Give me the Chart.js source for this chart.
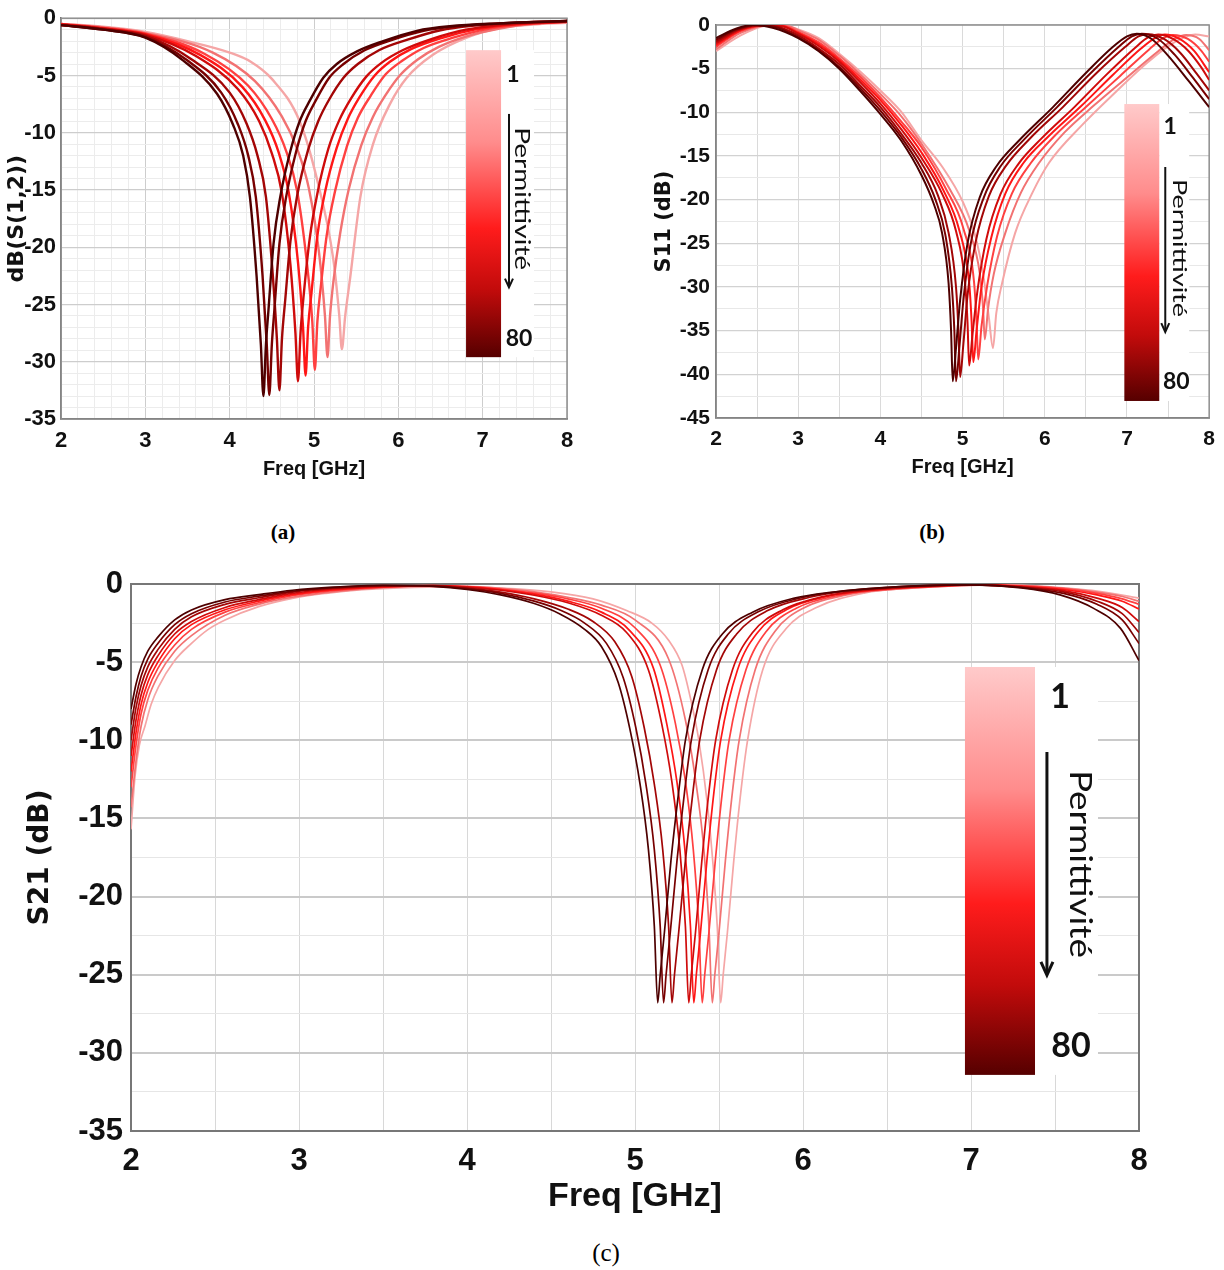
<!DOCTYPE html>
<html>
<head>
<meta charset="utf-8">
<title>Permittivité</title>
<script src="https://cdn.jsdelivr.net/npm/chart.js@4.4.1/dist/chart.umd.min.js"></script>
<style>
  body { margin: 0; background: #fff; width: 1224px; height: 1270px; position: relative; overflow: hidden; }
  .box { position: absolute; }
  .cap { position: absolute; transform: translate(-50%, -50%); font-family: "Liberation Serif", "Times New Roman", serif; color: #000; }
</style>
</head>
<body>
<div class="box" style="left:0;top:0;"><canvas id="chartA" width="600" height="485"></canvas></div>
<div class="box" style="left:640px;top:0;"><canvas id="chartB" width="584" height="485"></canvas></div>
<div class="box" style="left:0;top:550px;"><canvas id="chartC" width="1224" height="670"></canvas></div>
<div class="cap" style="left:283px;top:532px;font-weight:bold;font-size:21px;">(a)</div>
<div class="cap" style="left:932px;top:532px;font-weight:bold;font-size:21px;">(b)</div>
<div class="cap" style="left:606px;top:1253px;font-size:25px;">(c)</div>
<script>
'use strict';

// one curve per permittivity value, darkest (80) first, lightest (1) last
// every point is [frequency GHz, level dB]
let permittivity = [80, 70, 60, 50, 40, 30, 20, 1];

// (a) dB(S(1,2))
let s12Curves = [
  [[2,-0.6],[2.5,-1.0],[3,-1.7],[3.45,-3.7],[3.85,-6.6],[4.04,-9.3],[4.16,-12],[4.24,-15.6],[4.32,-22.6],[4.37,-28.5],[4.4,-33],[4.43,-28.5],[4.46,-25.5],[4.52,-19.7],[4.6,-15.6],[4.72,-11.6],[4.83,-9],[4.95,-7.2],[5.11,-5.2],[5.27,-4],[5.51,-2.9],[5.82,-2],[6.22,-1.1],[6.61,-0.7],[7.2,-0.45],[8,-0.25]],
  [[2,-0.6],[2.5,-1.0],[3,-1.65],[3.5,-3.7],[3.9,-6.5],[4.1,-9.3],[4.22,-12],[4.31,-15.6],[4.39,-22.5],[4.44,-28.5],[4.47,-32.9],[4.5,-28.5],[4.53,-25.5],[4.59,-19.7],[4.67,-15.6],[4.79,-11.6],[4.9,-9],[5.02,-7.2],[5.18,-5.2],[5.35,-4],[5.6,-2.8],[5.9,-1.95],[6.3,-1.1],[6.7,-0.7],[7.3,-0.42],[8,-0.25]],
  [[2,-0.6],[2.5,-0.95],[3,-1.55],[3.55,-3.6],[4,-6.5],[4.2,-9.2],[4.33,-12],[4.43,-15.6],[4.51,-22.3],[4.56,-28],[4.59,-32.5],[4.62,-28],[4.66,-24.5],[4.72,-19.5],[4.8,-15.5],[4.93,-11.5],[5.05,-9],[5.18,-7.1],[5.35,-5.2],[5.52,-4],[5.77,-2.8],[6.1,-1.9],[6.5,-1.05],[6.9,-0.65],[7.4,-0.4],[8,-0.25]],
  [[2,-0.55],[2.5,-0.9],[3,-1.45],[3.6,-3.3],[4.1,-6.2],[4.35,-9],[4.5,-11.8],[4.62,-15.3],[4.72,-21.5],[4.78,-27.5],[4.81,-31.7],[4.84,-27.5],[4.88,-24],[4.95,-19.2],[5.04,-15.3],[5.17,-11.4],[5.3,-8.9],[5.44,-7],[5.62,-5.1],[5.8,-3.9],[6.05,-2.8],[6.4,-1.8],[6.8,-1],[7.2,-0.6],[7.6,-0.4],[8,-0.3]],
  [[2,-0.55],[2.5,-0.9],[3,-1.4],[3.65,-3.2],[4.15,-6],[4.42,-8.9],[4.58,-11.7],[4.7,-15.2],[4.81,-21.3],[4.87,-27],[4.9,-31.2],[4.93,-27],[4.97,-24],[5.04,-19],[5.13,-15.2],[5.27,-11.3],[5.4,-8.8],[5.54,-6.9],[5.72,-5],[5.9,-3.8],[6.15,-2.7],[6.5,-1.75],[6.9,-1],[7.3,-0.6],[7.7,-0.4],[8,-0.3]],
  [[2,-0.5],[2.5,-0.85],[3,-1.35],[3.7,-3.1],[4.22,-5.9],[4.5,-8.8],[4.67,-11.6],[4.8,-15.1],[4.91,-21],[4.98,-26.5],[5.01,-30.7],[5.04,-26.5],[5.08,-23.5],[5.15,-19],[5.25,-15.1],[5.39,-11.2],[5.52,-8.7],[5.67,-6.8],[5.85,-4.9],[6.05,-3.7],[6.3,-2.6],[6.65,-1.7],[7.05,-0.95],[7.45,-0.55],[8,-0.3]],
  [[2,-0.5],[2.5,-0.8],[3,-1.3],[3.8,-3],[4.3,-5.5],[4.62,-8.6],[4.8,-11.4],[4.94,-14.9],[5.06,-20.5],[5.13,-26],[5.16,-29.6],[5.19,-26],[5.23,-23],[5.31,-18.8],[5.41,-15],[5.56,-11.1],[5.7,-8.6],[5.85,-6.7],[6.03,-4.9],[6.23,-3.6],[6.48,-2.5],[6.8,-1.6],[7.2,-0.9],[7.6,-0.5],[8,-0.35]],
  [[2,-0.5],[2.5,-0.75],[3,-1.2],[3.5,-2],[4,-3],[4.25,-3.8],[4.5,-5.3],[4.83,-9],[5.03,-13.9],[5.23,-21.1],[5.3,-26],[5.33,-28.9],[5.37,-26],[5.43,-22.6],[5.55,-15.6],[5.7,-11],[5.9,-7.5],[6.1,-5.2],[6.41,-3.2],[6.81,-1.7],[7.21,-0.84],[7.6,-0.55],[8,-0.4]]
];

// (b) S11 (dB)
let s11Curves = [
  [[2,-1.5],[2.25,-0.4],[2.45,0],[2.7,-0.35],[3,-1.5],[3.25,-3],[3.5,-5],[3.75,-7.5],[4,-10.2],[4.25,-13.2],[4.5,-17.2],[4.65,-20.5],[4.75,-23.8],[4.83,-29.6],[4.86,-35],[4.88,-40.8],[4.92,-37],[4.97,-31.5],[5.06,-25],[5.21,-19.7],[5.41,-16.2],[5.69,-13.2],[6.1,-9.4],[6.5,-5.5],[6.83,-2.5],[7,-1.3],[7.12,-1],[7.3,-1.6],[7.5,-3.5],[7.75,-6.4],[8,-9.4]],
  [[2,-1.7],[2.25,-0.5],[2.5,0],[2.75,-0.3],[3,-1.4],[3.25,-2.9],[3.5,-4.8],[3.75,-7.2],[4,-9.8],[4.25,-12.8],[4.5,-16.5],[4.67,-20],[4.79,-24],[4.87,-30],[4.9,-35],[4.92,-40.8],[4.96,-37],[5.01,-31.5],[5.1,-25],[5.26,-19.7],[5.46,-16.2],[5.75,-13.1],[6.15,-9.4],[6.56,-5.5],[6.9,-2.5],[7.06,-1.3],[7.18,-1],[7.38,-1.6],[7.58,-3.4],[7.8,-6],[8,-8.5]],
  [[2,-1.9],[2.25,-0.6],[2.5,-0.05],[2.75,-0.2],[3,-1.2],[3.25,-2.7],[3.5,-4.5],[3.75,-6.9],[4,-9.4],[4.25,-12.4],[4.5,-15.8],[4.7,-19.5],[4.83,-23.8],[4.92,-30],[4.95,-35],[4.97,-40.3],[5.01,-36.5],[5.06,-31],[5.16,-24.8],[5.32,-19.6],[5.53,-16.1],[5.82,-13],[6.22,-9.4],[6.63,-5.5],[6.98,-2.5],[7.14,-1.3],[7.26,-1.05],[7.45,-1.6],[7.65,-3.2],[7.85,-5.6],[8,-7.5]],
  [[2,-2.1],[2.3,-0.5],[2.55,-0.05],[2.8,-0.15],[3,-1],[3.25,-2.4],[3.5,-4.2],[3.75,-6.5],[4,-9],[4.25,-11.9],[4.5,-15.2],[4.75,-19.3],[4.92,-23.6],[5.03,-29.5],[5.06,-34],[5.08,-39],[5.12,-35.5],[5.18,-30.5],[5.29,-24.5],[5.46,-19.4],[5.68,-15.9],[5.97,-12.9],[6.36,-9.4],[6.76,-5.6],[7.1,-2.6],[7.26,-1.4],[7.38,-1.1],[7.56,-1.6],[7.75,-3],[7.9,-4.8],[8,-6.3]],
  [[2,-2.3],[2.3,-0.6],[2.6,-0.02],[2.8,-0.1],[3,-0.9],[3.25,-2.2],[3.5,-4],[3.75,-6.2],[4,-8.6],[4.25,-11.4],[4.5,-14.6],[4.77,-19],[4.96,-23.5],[5.08,-29.5],[5.11,-34],[5.13,-38.6],[5.17,-35],[5.23,-30],[5.35,-24.3],[5.52,-19.3],[5.74,-15.8],[6.04,-12.8],[6.43,-9.4],[6.83,-5.7],[7.17,-2.7],[7.34,-1.5],[7.46,-1.1],[7.64,-1.6],[7.82,-3],[8,-5.4]],
  [[2,-2.5],[2.3,-0.7],[2.6,-0.05],[2.8,-0.05],[3,-0.8],[3.25,-2],[3.5,-3.8],[3.75,-5.9],[4,-8.3],[4.25,-11],[4.5,-14],[4.8,-18.8],[5.01,-23.3],[5.14,-29.5],[5.17,-34],[5.19,-38.3],[5.23,-34.5],[5.3,-29.8],[5.42,-24.2],[5.6,-19.3],[5.83,-15.8],[6.13,-12.6],[6.5,-9.4],[6.92,-5.8],[7.27,-2.8],[7.44,-1.5],[7.56,-1.15],[7.74,-1.6],[7.9,-2.9],[8,-4.2]],
  [[2,-2.8],[2.3,-0.9],[2.65,-0.03],[2.85,-0.05],[3,-0.6],[3.25,-1.7],[3.5,-3.5],[3.75,-5.6],[4,-7.9],[4.25,-10.4],[4.5,-13.6],[4.85,-18.9],[5.08,-23.5],[5.21,-28.5],[5.25,-32.5],[5.27,-36],[5.31,-32.5],[5.38,-28.5],[5.52,-23.8],[5.71,-19.2],[5.93,-15.8],[6.24,-12.3],[6.6,-9.2],[7,-6],[7.38,-3],[7.58,-1.6],[7.72,-1.15],[7.88,-1.6],[8,-2.9]],
  [[2,-3],[2.3,-1.2],[2.6,-0.1],[2.8,0],[3,-0.5],[3.25,-1.5],[3.5,-3.3],[3.75,-5.3],[4,-7.5],[4.25,-9.9],[4.5,-13.2],[4.75,-16.2],[5,-20.2],[5.15,-24],[5.25,-28.5],[5.32,-33.5],[5.37,-37],[5.41,-33],[5.48,-29.6],[5.64,-23.8],[5.85,-19.2],[6.05,-15.8],[6.45,-11.5],[6.86,-7.7],[7.26,-4.2],[7.59,-1.9],[7.83,-1.1],[8,-1.3]]
];

// (c) S21 (dB)
let s21Curves = [
  [[2,-8],[2.03,-6.4],[2.06,-5.3],[2.1,-4.3],[2.16,-3.4],[2.26,-2.3],[2.36,-1.66],[2.56,-1],[2.76,-0.68],[2.96,-0.4],[3.2,-0.2],[3.5,-0.08],[3.8,-0.15],[4,-0.35],[4.2,-0.7],[4.4,-1.25],[4.55,-1.9],[4.7,-2.9],[4.8,-4],[4.9,-6.3],[4.97,-9.3],[5.03,-12.8],[5.08,-17],[5.115,-21.9],[5.135,-26.8],[5.15,-25],[5.175,-22.3],[5.214,-17.7],[5.26,-13.3],[5.3,-10],[5.4,-5.5],[5.52,-3.2],[5.7,-1.8],[5.95,-0.9],[6.15,-0.55],[6.6,-0.15],[7,-0.05],[7.3,-0.25],[7.53,-0.7],[7.73,-1.56],[7.89,-2.84],[8,-4.9]],
  [[2,-9],[2.03,-7.2],[2.06,-5.9],[2.1,-4.8],[2.16,-3.8],[2.26,-2.6],[2.36,-1.9],[2.56,-1.15],[2.76,-0.78],[2.96,-0.47],[3.2,-0.24],[3.5,-0.1],[3.8,-0.13],[4,-0.3],[4.2,-0.6],[4.4,-1.1],[4.55,-1.65],[4.7,-2.5],[4.83,-3.8],[4.93,-6],[5.005,-9.2],[5.065,-12.8],[5.115,-17],[5.15,-21.9],[5.17,-26.8],[5.185,-25],[5.21,-22.3],[5.25,-17.7],[5.295,-13.3],[5.335,-10],[5.435,-5.5],[5.555,-3.2],[5.74,-1.75],[5.99,-0.88],[6.2,-0.5],[6.65,-0.14],[7,-0.05],[7.3,-0.22],[7.55,-0.6],[7.75,-1.3],[7.9,-2.3],[8,-3.8]],
  [[2,-10],[2.03,-7.9],[2.06,-6.5],[2.1,-5.3],[2.16,-4.2],[2.26,-2.9],[2.36,-2.1],[2.56,-1.3],[2.76,-0.88],[2.96,-0.52],[3.2,-0.27],[3.5,-0.12],[3.8,-0.12],[4,-0.27],[4.2,-0.52],[4.4,-0.95],[4.6,-1.6],[4.75,-2.4],[4.88,-3.7],[4.98,-5.9],[5.055,-9.2],[5.115,-12.8],[5.165,-17],[5.2,-21.9],[5.22,-26.8],[5.235,-25],[5.26,-22.3],[5.3,-17.7],[5.345,-13.3],[5.385,-10],[5.485,-5.5],[5.605,-3.2],[5.79,-1.7],[6.04,-0.85],[6.25,-0.48],[6.7,-0.13],[7,-0.05],[7.3,-0.2],[7.55,-0.5],[7.75,-1.1],[7.9,-1.9],[8,-3.1]],
  [[2,-11],[2.03,-8.7],[2.06,-7.1],[2.1,-5.8],[2.16,-4.6],[2.26,-3.2],[2.36,-2.4],[2.56,-1.5],[2.76,-1],[2.96,-0.6],[3.2,-0.32],[3.5,-0.15],[3.8,-0.1],[4,-0.2],[4.2,-0.4],[4.4,-0.72],[4.6,-1.2],[4.8,-2],[4.95,-3.1],[5.08,-5.5],[5.16,-9],[5.22,-12.7],[5.267,-17],[5.3,-21.9],[5.32,-26.8],[5.335,-25],[5.36,-22.3],[5.398,-17.7],[5.44,-13.3],[5.48,-10],[5.58,-5.5],[5.7,-3.1],[5.88,-1.65],[6.12,-0.8],[6.35,-0.43],[6.8,-0.12],[7.05,-0.05],[7.3,-0.17],[7.55,-0.42],[7.75,-0.9],[7.9,-1.5],[8,-2.4]],
  [[2,-12],[2.03,-9.5],[2.06,-7.7],[2.1,-6.3],[2.16,-5],[2.26,-3.5],[2.36,-2.6],[2.56,-1.65],[2.76,-1.1],[2.96,-0.68],[3.2,-0.38],[3.5,-0.18],[3.8,-0.1],[4,-0.18],[4.2,-0.35],[4.4,-0.65],[4.6,-1.1],[4.8,-1.8],[4.97,-3],[5.11,-5.4],[5.19,-9],[5.25,-12.7],[5.297,-17],[5.33,-21.9],[5.35,-26.8],[5.365,-25],[5.39,-22.3],[5.428,-17.7],[5.47,-13.3],[5.51,-10],[5.61,-5.5],[5.73,-3.1],[5.91,-1.6],[6.15,-0.78],[6.38,-0.42],[6.82,-0.12],[7.05,-0.05],[7.3,-0.15],[7.55,-0.35],[7.75,-0.7],[7.9,-1.1],[8,-1.6]],
  [[2,-13],[2.03,-10.3],[2.06,-8.3],[2.1,-6.8],[2.16,-5.4],[2.26,-3.9],[2.36,-2.9],[2.56,-1.8],[2.76,-1.2],[2.96,-0.75],[3.2,-0.43],[3.5,-0.2],[3.8,-0.12],[4,-0.16],[4.2,-0.32],[4.4,-0.58],[4.6,-0.95],[4.8,-1.55],[5,-2.8],[5.15,-5.2],[5.24,-8.9],[5.3,-12.6],[5.347,-17],[5.38,-21.9],[5.4,-26.8],[5.415,-25],[5.44,-22.3],[5.478,-17.7],[5.52,-13.3],[5.56,-10],[5.66,-5.5],[5.78,-3.05],[5.96,-1.55],[6.2,-0.75],[6.43,-0.4],[6.85,-0.12],[7.1,-0.05],[7.3,-0.12],[7.55,-0.3],[7.75,-0.6],[7.9,-0.95],[8,-1.3]],
  [[2,-14.3],[2.03,-11.3],[2.06,-9.1],[2.1,-7.4],[2.16,-5.9],[2.26,-4.3],[2.36,-3.3],[2.56,-2],[2.76,-1.3],[2.96,-0.85],[3.2,-0.5],[3.5,-0.23],[3.8,-0.14],[4,-0.15],[4.2,-0.28],[4.4,-0.5],[4.6,-0.85],[4.8,-1.35],[5,-2.3],[5.2,-4.8],[5.3,-8.7],[5.36,-12.5],[5.41,-17],[5.44,-21.9],[5.46,-26.8],[5.475,-25],[5.5,-22.3],[5.538,-17.7],[5.58,-13.3],[5.62,-10],[5.715,-5.5],[5.835,-3],[6.01,-1.5],[6.26,-0.7],[6.5,-0.37],[6.9,-0.11],[7.1,-0.05],[7.3,-0.1],[7.55,-0.27],[7.75,-0.52],[7.9,-0.8],[8,-1.1]],
  [[2,-15.7],[2.024,-12.3],[2.05,-10.3],[2.083,-9.1],[2.12,-7.7],[2.163,-6.6],[2.26,-4.9],[2.36,-3.8],[2.46,-2.9],[2.56,-2.3],[2.76,-1.45],[2.96,-0.92],[3.16,-0.6],[3.36,-0.38],[3.6,-0.25],[3.9,-0.18],[4.2,-0.26],[4.5,-0.5],[4.75,-0.95],[4.95,-1.7],[5.1,-2.5],[5.2,-3.6],[5.28,-5.2],[5.33,-7.3],[5.38,-10],[5.43,-14],[5.465,-18],[5.49,-22],[5.51,-26.8],[5.525,-25],[5.55,-22.3],[5.588,-17.7],[5.63,-13.3],[5.67,-10],[5.76,-5.5],[5.9,-2.85],[6.08,-1.5],[6.37,-0.57],[6.6,-0.3],[6.95,-0.1],[7.15,-0.05],[7.35,-0.1],[7.55,-0.25],[7.75,-0.45],[8,-0.9]]
];

// styles, same order as permittivity
let curveColors = ['#4e0000', '#780000', '#a30606', '#cf0b0b', '#ff1616', '#ff4040', '#f27272', '#f5a6a6'];
let barStops = [[0, '#ffcaca'], [0.3, '#ff8c8c'], [0.58, '#ff1c1c'], [0.78, '#c20b0b'], [1, '#560000']];

let narrow = '"Liberation Sans Narrow", "Liberation Sans", Arial, sans-serif';
let wide = '"DejaVu Sans", Verdana, sans-serif';

function isWhole(v) { return Math.abs(v - Math.round(v)) < 1e-6; }
function isFive(v) { return Math.abs(v / 5 - Math.round(v / 5)) < 1e-6; }

// gradient bar, its labels, the arrow and the frame round the plot
let colorBarPlugin = {
  id: 'colorBar',
  beforeDatasetsDraw(chart, args, o) {
    let ctx = chart.ctx;
    let xs = chart.scales.x;
    let ys = chart.scales.y;
    let area = chart.chartArea;
    let px = v => xs.getPixelForValue(v);
    let py = v => ys.getPixelForValue(v);
    let left = px(o.bar[0]), right = px(o.bar[1]), top = py(o.bar[2]), bottom = py(o.bar[3]);
    ctx.save();
    ctx.fillStyle = '#fff';
    ctx.fillRect(right, top, px(o.clearTo) - right, bottom - top);
    let g = ctx.createLinearGradient(0, top, 0, bottom);
    barStops.forEach(s => g.addColorStop(s[0], s[1]));
    ctx.fillStyle = g;
    ctx.fillRect(left, top, right - left, bottom - top);

    ctx.fillStyle = '#111';
    ctx.font = o.numFont;
    ctx.textAlign = 'center';
    ctx.textBaseline = 'middle';
    ctx.fillText(String(permittivity[permittivity.length - 1]), px(o.low[0]), py(o.low[1]));
    ctx.fillText(String(permittivity[0]), px(o.high[0]), py(o.high[1]));

    let ax = px(o.arrow[0]), ay0 = py(o.arrow[1]), ay1 = py(o.arrow[2]);
    ctx.strokeStyle = '#111';
    ctx.lineWidth = o.arrowWidth;
    ctx.beginPath();
    ctx.moveTo(ax, ay0);
    ctx.lineTo(ax, ay1 - 2);
    ctx.stroke();
    ctx.beginPath();
    ctx.moveTo(ax - o.head, ay1 - o.head * 2.2);
    ctx.lineTo(ax, ay1);
    ctx.lineTo(ax + o.head, ay1 - o.head * 2.2);
    ctx.stroke();

    ctx.font = o.textFont;
    let w = ctx.measureText('Permittivité').width;
    ctx.translate(px(o.text[0]), py(o.text[1]));
    ctx.rotate(Math.PI / 2);
    ctx.scale(o.textLen / w, 1);
    ctx.fillText('Permittivité', 0, 0);
    ctx.restore();

    ctx.save();
    ctx.strokeStyle = o.frame;
    ctx.lineWidth = o.frameWidth;
    ctx.strokeRect(area.left, area.top, area.right - area.left, area.bottom - area.top);
    ctx.restore();
  }
};

function makeDatasets(curves, width) {
  return curves.map((c, i) => ({
    label: 'ε = ' + permittivity[i],
    data: c.map(p => ({ x: p[0], y: p[1] })),
    borderColor: curveColors[i],
    borderWidth: width,
    pointRadius: 0,
    fill: false,
    cubicInterpolationMode: 'monotone'
  }));
}

function makeChart(id, curves, s) {
  let el = document.getElementById(id);
  return new Chart(el.getContext('2d'), {
    type: 'line',
    data: { datasets: makeDatasets(curves, s.lineWidth) },
    plugins: [colorBarPlugin],
    options: {
      responsive: false,
      animation: false,
      events: [],
      layout: { padding: s.padding },
      plugins: { legend: { display: false }, tooltip: { enabled: false }, colorBar: s.bar },
      scales: {
        x: {
          type: 'linear', min: 2, max: 8,
          afterFit: sc => { sc.height = s.xHeight; },
          ticks: {
            stepSize: s.xStep, autoSkip: false, maxRotation: 0, padding: s.xTickPad, color: '#111',
            font: s.tickFont,
            callback: v => isWhole(v) ? String(Math.round(v)) : ''
          },
          grid: { color: c => isWhole(c.tick.value) ? s.xMajor : s.xMinor, drawTicks: false, lineWidth: 1 },
          border: { color: s.axisColor, width: s.axisWidth },
          title: { display: true, text: 'Freq [GHz]', color: '#111', font: s.xTitleFont, padding: { top: 0, bottom: s.xTitlePad } }
        },
        y: {
          min: s.yMin, max: 0,
          afterFit: sc => { sc.width = s.yWidth; },
          ticks: {
            stepSize: s.yStep, autoSkip: false, padding: s.yTickPad, color: '#111',
            font: s.tickFont,
            callback: v => isFive(v) ? String(Math.round(v)) : ''
          },
          grid: { color: c => isFive(c.tick.value) ? s.yMajor : s.yMinor, lineWidth: c => isFive(c.tick.value) ? s.yMajorWidth : 1, drawTicks: false },
          border: { color: s.axisColor, width: s.axisWidth },
          title: { display: true, text: s.yTitle, color: '#111', font: s.yTitleFont, padding: { top: s.yTitlePad, bottom: 0 } }
        }
      }
    }
  });
}

makeChart('chartA', s12Curves, {
  lineWidth: 2.4, padding: { top: 17, right: 33, left: 0, bottom: 0 },
  xHeight: 66, yWidth: 61, xStep: 0.2, yStep: 1, yMin: -35,
  xTickPad: 9, yTickPad: 5, xTitlePad: 4, yTitlePad: 4,
  tickFont: { family: narrow, size: 22, weight: 'bold' },
  xTitleFont: { family: narrow, size: 20, weight: 'bold' },
  yTitleFont: { family: wide, size: 22, weight: 'bold' },
  yTitle: 'dB(S(1,2))',
  xMajor: '#cdcdcd', xMinor: '#ececec', yMajor: '#cdcdcd', yMinor: '#ececec', yMajorWidth: 1.3,
  axisColor: '#666', axisWidth: 1.5,
  bar: {
    bar: [6.803, 7.218, -2.79, -29.6], clearTo: 7.609,
    low: [7.36, -4.88], high: [7.431, -27.95],
    arrow: [7.312, -8.36, -23.51], head: 4, arrowWidth: 2,
    text: [7.467, -15.76], textLen: 143,
    numFont: 'bold 23px Lato, sans-serif', textFont: '21px Lato, sans-serif',
    frame: '#8f8f8f', frameWidth: 1.5
  }
});

makeChart('chartB', s11Curves, {
  lineWidth: 2, padding: { top: 25, right: 14, left: 0, bottom: 0 },
  xHeight: 67, yWidth: 76, xStep: 0.5, yStep: 2.5, yMin: -45,
  xTickPad: 9, yTickPad: 6, xTitlePad: 6, yTitlePad: 12,
  tickFont: { family: narrow, size: 21, weight: 'bold' },
  xTitleFont: { family: narrow, size: 20, weight: 'bold' },
  yTitleFont: { family: wide, size: 21, weight: 'bold' },
  yTitle: 'S11 (dB)',
  xMajor: '#dadada', xMinor: '#dadada', yMajor: '#d2d2d2', yMinor: '#e8e8e8', yMajorWidth: 1.3,
  axisColor: '#666', axisWidth: 1.5,
  bar: {
    bar: [6.968, 7.393, -9.05, -43.05], clearTo: 7.757,
    low: [7.527, -11.68], high: [7.6, -40.88],
    arrow: [7.466, -16.26, -35.15], head: 4, arrowWidth: 2,
    text: [7.636, -25.54], textLen: 138,
    numFont: 'bold 23px Lato, sans-serif', textFont: '20px Lato, sans-serif',
    frame: '#8f8f8f', frameWidth: 1.5
  }
});

makeChart('chartC', s21Curves, {
  lineWidth: 1.7, padding: { top: 34, right: 85, left: 0, bottom: 0 },
  xHeight: 89, yWidth: 131, xStep: 0.5, yStep: 2.5, yMin: -35,
  xTickPad: 12, yTickPad: 8, xTitlePad: 3, yTitlePad: 24,
  tickFont: { family: narrow, size: 31, weight: 'bold' },
  xTitleFont: { family: narrow, size: 34, weight: 'bold' },
  yTitleFont: { family: wide, size: 28, weight: 'bold' },
  yTitle: 'S21 (dB)',
  xMajor: '#d8d8d8', xMinor: '#d8d8d8', yMajor: '#cacaca', yMinor: '#e6e6e6', yMajorWidth: 2,
  axisColor: '#555', axisWidth: 2,
  bar: {
    bar: [6.964, 7.381, -5.31, -31.41], clearTo: 7.756,
    low: [7.53, -7.23], high: [7.595, -29.56],
    arrow: [7.452, -10.75, -25.02], head: 6, arrowWidth: 3,
    text: [7.649, -17.91], textLen: 188,
    numFont: 'bold 34px Lato, sans-serif', textFont: '30px Lato, sans-serif',
    frame: '#777', frameWidth: 2
  }
});
</script>
</body>
</html>
